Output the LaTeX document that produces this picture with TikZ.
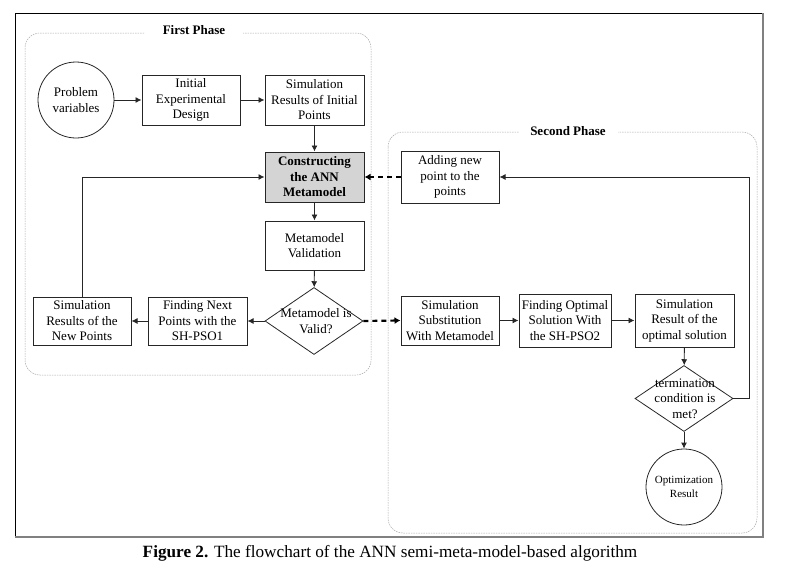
\documentclass[tikz,border=0pt]{standalone}
\usepackage{fontspec}
\setmainfont{Liberation Serif}
\usetikzlibrary{shapes.geometric,arrows.meta}
\begin{document}
\begin{tikzpicture}[x=1pt,y=-1pt,
  box/.style={draw=black!85,line width=1pt,rectangle,minimum width=#1,inner sep=0pt,align=center,font=\fontsize{13}{15.5}\selectfont},
  box/.default=99pt,
  circ/.style={draw=black!85,line width=0.8pt,circle,minimum size=76pt,inner sep=0pt,align=center},
  diam/.style={draw=black!85,line width=0.8pt,diamond,minimum width=98pt,minimum height=67pt,inner sep=0pt},
  dtext/.style={align=center,inner sep=0pt,font=\fontsize{13}{15.5}\selectfont},
  arr/.style={draw=black!85,line width=0.9pt,-{Latex[length=6pt,width=6pt]}},
  darr/.style={draw=black,line width=2.2pt,dash pattern=on 5pt off 4pt,-{Latex[length=6pt,width=7pt]}},
  phase/.style={draw=gray!70,line width=0.5pt,dash pattern=on 1.5pt off 1pt,rounded corners=15pt},
  plabel/.style={fill=white,inner sep=0pt,minimum height=12pt,font=\fontsize{13}{15.5}\selectfont\bfseries}
]
\useasboundingbox (0,0) rectangle (790,576);
% outer frame
\draw[black,line width=0.8pt] (15,537) -- (15,13) -- (763,13);
\draw[gray,line width=2.5pt] (763,13) -- (763,537) -- (15,537);
% phases
\draw[phase] (25,33) rectangle (371,375);
\node[plabel,minimum width=98pt] (p1) at (194,30) {First Phase};
\draw[phase] (388,132) rectangle (757,533);
\node[plabel,minimum width=99pt] (p2) at (568,131) {Second Phase};
% first phase nodes
\node[circ,font=\fontsize{13}{15.5}\selectfont] (pv) at (76,100) {Problem\\variables};
\node[box=98pt,minimum height=50pt] (ied) at (191,100) {Initial\\Experimental\\Design};
\node[box,minimum height=50pt] (sri) at (314.5,100) {Simulation\\Results of Initial\\Points};
\node[box,minimum height=50pt,fill=black!17,font=\fontsize{13}{15.5}\selectfont\bfseries] (cam) at (314.5,177) {Constructing\\the ANN\\Metamodel};
\node[box,minimum height=49pt] (mv) at (314.5,245.5) {Metamodel\\Validation};
\node[diam] (valid) at (314,321) {};
\node[dtext] (validt) at (316,321) {Metamodel is\\Valid?};
\node[box,minimum height=48pt] (fnp) at (197.5,321) {Finding Next\\Points with the\\SH-PSO1};
\node[box=98pt,minimum height=48pt] (srn) at (82,321) {Simulation\\Results of the\\New Points};
% second phase nodes
\node[box=98pt,minimum height=52pt] (anp) at (450,177) {Adding new\\point to the\\points};
\node[box=98pt,minimum height=49pt] (ssm) at (450,320.5) {Simulation\\Substitution\\With Metamodel};
\node[box=92pt,minimum height=53pt] (fos) at (565,320.5) {Finding Optimal\\Solution With\\the SH-PSO2};
\node[box,minimum height=53pt] (sro) at (684.5,320.5) {Simulation\\Result of the\\optimal solution};
\node[diam,minimum height=66pt] (term) at (684,398.5) {};
\node[dtext] (termt) at (685,398.5) {termination\\condition is\\met?};
\node[circ,font=\fontsize{11}{14}\selectfont] (opt) at (684,487) {Optimization\\Result};
\coordinate (loopR) at (749,177);
% connectors
\draw[arr] (pv) -- (ied);
\draw[arr] (ied) -- (sri);
\draw[arr] (sri) -- (cam);
\draw[arr] (cam) -- (mv);
\draw[arr] (mv) -- (valid);
\draw[arr] (valid) -- (fnp);
\draw[arr] (fnp) -- (srn);
\draw[arr] (srn.north) |- (cam.west);
\draw[darr] (valid.east) -- (ssm.west);
\draw[arr] (ssm) -- (fos);
\draw[arr] (fos) -- (sro);
\draw[arr] (sro) -- (term);
\draw[arr] (term) -- (opt);
\draw[arr] (term.east) -| (loopR) -- (anp.east);
\draw[darr] (anp.west) -- (cam.east);
% caption
\node[anchor=base,inner sep=0pt,font=\fontsize{17.2}{20}\selectfont] (cap) at (390,557) {\textbf{Figure 2.} The flowchart of the ANN semi-meta-model-based algorithm};
\end{tikzpicture}
\end{document}
